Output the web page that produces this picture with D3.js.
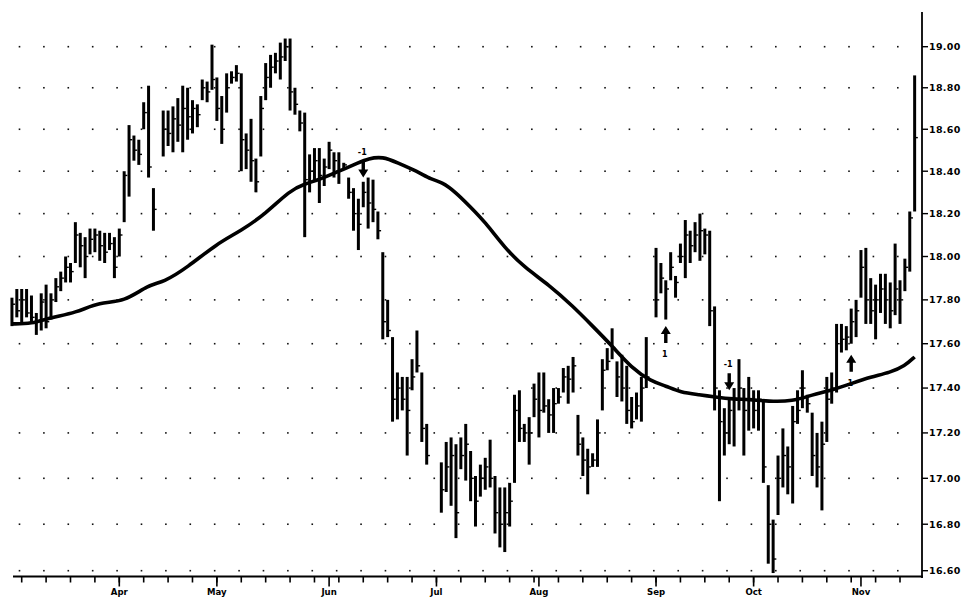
<!DOCTYPE html>
<html><head><meta charset="utf-8">
<script src="https://cdn.jsdelivr.net/npm/d3@7/dist/d3.min.js"></script>
<style>body{margin:0;background:#fff}svg{display:block}</style>
</head><body><svg id="c" width="965" height="598"></svg>
<script>
// ---- data (trading-day slots; null = no trading) ----
const firstDay = -2;
const highs = [
17.81,17.85,17.85,17.85,17.82,17.74,17.83,17.87,17.83,17.90,
17.93,18.00,17.97,18.16,18.11,18.09,18.13,18.13,18.12,18.11,
18.11,18.09,18.13,18.40,18.62,18.57,18.55,18.73,18.81,18.32,
null,18.69,18.69,18.71,18.75,18.81,18.80,18.74,18.72,18.84,
18.83,19.01,18.85,18.76,18.87,18.88,18.91,18.87,18.58,18.65,
18.46,18.76,18.92,18.96,18.97,19.02,19.04,19.04,18.80,18.69,
18.68,18.48,18.51,18.51,18.46,18.54,18.49,18.49,18.44,18.37,
18.32,18.27,18.35,18.37,18.36,18.21,18.02,17.80,17.63,17.47,
17.45,17.45,17.53,17.66,17.47,17.24,null,null,17.07,17.16,
17.18,17.15,17.18,17.24,17.12,17.01,17.06,17.09,17.17,17.01,
16.96,16.96,16.98,17.37,17.39,17.24,17.27,17.42,17.47,17.47,
17.35,17.40,17.40,17.49,17.50,17.54,17.28,17.18,17.13,17.11,
17.26,17.53,17.58,17.67,17.52,17.55,17.50,17.36,17.38,17.45,
17.63,null,18.04,17.97,17.89,18.02,17.91,18.06,18.17,18.12,
18.16,18.20,18.13,18.12,17.77,17.39,17.31,17.35,17.40,17.53,
17.40,17.45,17.39,17.39,17.35,16.97,16.82,17.10,17.22,17.14,
17.32,17.39,17.48,17.37,17.29,17.20,17.25,17.45,17.47,17.69,
17.69,17.68,17.76,17.80,18.03,18.04,17.90,17.87,17.92,17.92,
17.88,18.06,17.89,17.99,18.21,18.86];
const lows = [
17.68,17.72,17.69,17.72,17.69,17.64,17.66,17.67,17.71,17.79,
17.84,17.88,17.88,17.97,17.95,17.90,18.01,18.02,17.98,17.97,
18.03,17.90,18.00,18.16,18.28,18.45,18.43,18.60,18.37,18.12,
null,18.47,18.52,18.49,18.54,18.49,18.55,18.58,18.61,18.74,
18.73,18.79,18.64,18.53,18.68,18.82,18.83,18.40,18.41,18.35,
18.30,18.47,18.74,18.80,18.87,18.84,18.93,18.69,18.67,18.59,
18.09,18.30,18.35,18.25,18.33,18.41,18.37,18.34,18.41,18.27,
18.12,18.03,18.23,18.13,18.16,18.08,17.62,17.63,17.25,17.26,
17.30,17.10,17.39,17.47,17.16,17.06,null,null,16.85,16.94,
16.88,16.74,17.04,16.99,16.90,16.79,16.92,16.95,16.96,16.76,
16.70,16.68,16.79,16.98,17.16,17.16,17.06,17.27,17.18,17.29,
17.20,17.20,17.33,17.38,17.33,17.38,17.10,17.01,16.93,17.05,
17.05,17.30,17.48,17.53,17.36,17.34,17.24,17.22,17.26,17.25,
17.40,null,17.72,17.83,17.71,17.89,17.81,17.97,17.90,17.97,
18.02,17.98,18.01,17.68,17.30,16.90,17.10,17.15,17.14,17.30,
17.10,17.21,17.22,17.21,16.98,16.63,16.59,16.84,16.96,16.93,
16.89,17.24,17.31,17.29,17.01,16.96,16.86,17.16,17.33,17.38,
17.56,17.57,17.60,17.63,17.81,17.69,17.69,17.62,17.74,17.69,
17.67,17.73,17.69,17.84,17.93,18.21];
const closes = [
17.78,17.75,17.80,17.74,17.72,17.70,17.79,17.70,17.80,17.86,
17.90,17.95,17.93,18.10,18.05,18.00,18.08,18.10,18.05,18.02,
18.06,17.95,18.10,18.38,18.55,18.50,18.48,18.68,18.42,18.22,
null,18.60,18.58,18.65,18.62,18.70,18.66,18.70,18.67,18.80,
18.78,18.84,18.70,18.60,18.80,18.85,18.87,18.55,18.50,18.45,
18.35,18.70,18.85,18.90,18.93,18.95,19.00,18.78,18.72,18.63,
18.36,18.40,18.45,18.38,18.42,18.50,18.45,18.40,18.43,18.30,
18.20,18.15,18.30,18.25,18.22,18.12,17.70,17.66,17.35,17.40,
17.35,17.30,17.45,17.50,17.22,17.10,null,null,16.95,17.05,
17.10,16.85,17.10,17.15,17.00,16.90,17.00,17.05,17.00,16.85,
16.80,16.85,16.90,17.30,17.22,17.20,17.20,17.35,17.30,17.32,
17.28,17.33,17.36,17.45,17.44,17.50,17.15,17.08,17.05,17.08,
17.20,17.48,17.52,17.58,17.45,17.40,17.30,17.25,17.32,17.40,
17.45,null,17.80,17.90,17.85,17.95,17.88,18.00,18.10,18.05,
18.10,18.12,18.10,17.75,17.40,17.25,17.20,17.30,17.35,17.40,
17.30,17.35,17.30,17.35,17.05,16.80,16.65,17.00,17.10,17.05,
17.25,17.30,17.40,17.33,17.10,17.05,17.15,17.35,17.40,17.60,
17.62,17.63,17.70,17.75,17.95,17.80,17.75,17.80,17.85,17.80,
17.75,17.85,17.80,17.95,18.18,18.56];

// moving average (day, price)
const maDays   = [-2, 2, 6, 11, 16, 21, 26, 29, 34, 40, 45, 50, 55, 58, 61, 66, 69, 71, 74, 77, 81, 84, 86, 89, 92, 95, 99, 103, 108, 113, 117, 121, 125, 129, 132, 135, 139, 142, 146, 149, 153, 158, 162, 166, 170, 174, 178, 181, 183];
const maValues = [17.69,17.69,17.72,17.74,17.79,17.79,17.87,17.88,17.95,18.06,18.12,18.20,18.31,18.34,18.36,18.41,18.44,18.46,18.47,18.44,18.40,18.36,18.35,18.30,18.23,18.16,18.04,17.95,17.87,17.77,17.68,17.59,17.49,17.43,17.41,17.38,17.37,17.36,17.35,17.35,17.34,17.34,17.37,17.39,17.42,17.45,17.47,17.50,17.54];

const priceTicks = [16.6,16.8,17.0,17.2,17.4,17.6,17.8,18.0,18.2,18.4,18.6,18.8,19.0];
const priceTickLabels = ["16.60","16.80","17.00","17.20","17.40","17.60","17.80","18.00","18.20","18.40","18.60","18.80","19.00"];
const weekTickDays = [0,5,10,15,20,25,30,35,40,45,50,55,60,65,70,75,80,85,90,95,100,105,110,115,120,125,130,135,140,145,150,155,160,165,170,175,180];
const monthLabels = ["Apr","May","Jun","Jul","Aug","Sep","Oct","Nov"];
const monthDays   = [20, 40, 63, 85, 106, 130, 150, 172];

const annDays   = [70, 132, 145, 170];
const annPrices = [18.37, 17.68, 17.39, 17.55];
const annDirs   = ["down","up","down","up"];
const annLabels = ["-1","1","-1","1"];

// ---- scales ----
const svg = d3.select("#c");
const x = d3.scaleLinear().domain([0,180]).range([21.7,900]);
const y = d3.scaleLog().domain([16.6,19]).range([570.7,46.7]);
const axisX = 922, axisY = 576.5;

// grid dots
const gDots = svg.append("g");
priceTicks.forEach(p=>{
  weekTickDays.forEach(d=>{
    gDots.append("rect").attr("x",x(d)-3).attr("y",y(p)-0.8).attr("width",1.6).attr("height",1.6).attr("fill","#111");
  });
});

// right axis
svg.append("line").attr("x1",axisX).attr("x2",axisX).attr("y1",12).attr("y2",578)
  .attr("stroke","#000").attr("stroke-width",1.8);
const yl = svg.append("g");
priceTicks.forEach((p,i)=>{
  yl.append("line").attr("x1",axisX).attr("x2",axisX+6).attr("y1",y(p)).attr("y2",y(p))
    .attr("stroke","#000").attr("stroke-width",1.4);
  yl.append("text").attr("x",axisX+7).attr("y",y(p)).attr("dy","0.36em")
    .attr("font-family","DejaVu Sans, sans-serif").attr("font-weight","bold")
    .attr("font-size","9.5px").attr("letter-spacing","0.3px").attr("fill","#000")
    .text(priceTickLabels[i]);
});

// bottom axis
svg.append("line").attr("x1",13).attr("x2",axisX+1).attr("y1",axisY).attr("y2",axisY)
  .attr("stroke","#000").attr("stroke-width",2);
weekTickDays.forEach(d=>{
  svg.append("line").attr("x1",x(d)).attr("x2",x(d)).attr("y1",axisY).attr("y2",axisY+6)
    .attr("stroke","#000").attr("stroke-width",1.6);
});
monthDays.forEach((d,i)=>{
  svg.append("line").attr("x1",x(d)).attr("x2",x(d)).attr("y1",axisY).attr("y2",axisY+10)
    .attr("stroke","#000").attr("stroke-width",1.6);
  svg.append("text").attr("x",x(d)).attr("y",595).attr("text-anchor","middle")
    .attr("font-family","Liberation Sans Narrow, DejaVu Sans Condensed, sans-serif")
    .attr("font-weight","bold").attr("font-size","9.5px").attr("fill","#000")
    .text(monthLabels[i]);
});

// price bars
const bars = highs.map((h,i)=>({day:firstDay+i,h:h,l:lows[i],c:closes[i]})).filter(d=>d.h!=null);
const gb = svg.append("g");
gb.selectAll("line.hl").data(bars).enter().append("line")
  .attr("x1",d=>x(d.day)).attr("x2",d=>x(d.day))
  .attr("y1",d=>y(d.h)).attr("y2",d=>y(d.l))
  .attr("stroke","#000").attr("stroke-width",3);
gb.selectAll("line.cl").data(bars).enter().append("line")
  .attr("x1",d=>x(d.day)).attr("x2",d=>x(d.day)+3.2)
  .attr("y1",d=>y(d.c)).attr("y2",d=>y(d.c))
  .attr("stroke","#000").attr("stroke-width",1.4);

// moving average
const ma = maDays.map((d,i)=>({day:d,v:maValues[i]}));
svg.append("path").datum(ma)
  .attr("d",d3.line().x(d=>x(d.day)).y(d=>y(d.v)).curve(d3.curveBasis))
  .attr("fill","none").attr("stroke","#000").attr("stroke-width",3.6).attr("stroke-linejoin","round");

// signal arrows
annDays.forEach((d,i)=>{
  const cx = x(d), ty = y(annPrices[i]);
  const s = annDirs[i]==="down" ? -1 : 1; // body extends upward for down arrows
  const p = d3.path();
  p.moveTo(cx, ty);
  p.lineTo(cx-5, ty + s*8);
  p.lineTo(cx-1.7, ty + s*8);
  p.lineTo(cx-1.7, ty + s*17);
  p.lineTo(cx+1.7, ty + s*17);
  p.lineTo(cx+1.7, ty + s*8);
  p.lineTo(cx+5, ty + s*8);
  p.closePath();
  svg.append("path").attr("d",p.toString()).attr("fill","#000");
  svg.append("text").attr("x",cx-1).attr("y", annDirs[i]==="down" ? ty-23 : ty+31)
    .attr("text-anchor","middle").attr("font-family","DejaVu Sans, sans-serif")
    .attr("font-weight","bold").attr("font-size","8px").attr("fill","#000").text(annLabels[i]);
});
</script></body></html>
